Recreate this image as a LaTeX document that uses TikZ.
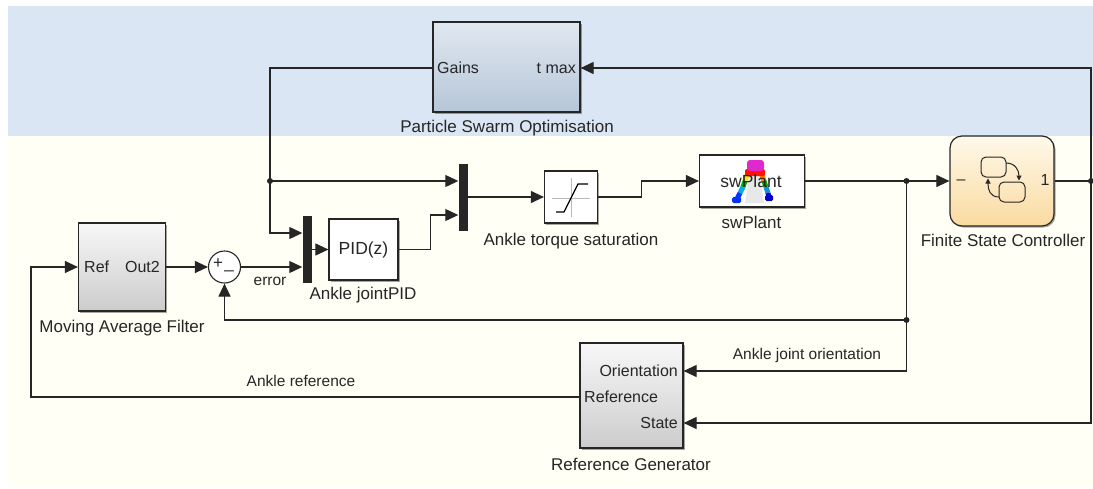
\documentclass[tikz,border=0pt]{standalone}
\usepackage{fontspec}
\setmainfont{Liberation Sans}
\usetikzlibrary{arrows.meta,shadows,calc}

\definecolor{bandblue}{RGB}{219,230,244}
\definecolor{canvas}{RGB}{255,255,245}
\definecolor{ink}{RGB}{38,38,38}
\definecolor{psotop}{RGB}{224,232,241}
\definecolor{psobot}{RGB}{182,198,215}
\definecolor{fsctop}{RGB}{255,249,234}
\definecolor{fscbot}{RGB}{250,218,160}
\definecolor{plantmag}{RGB}{225,40,205}

\tikzset{
  blk/.style={draw=ink, line width=1.2pt, inner sep=0pt,
    drop shadow={shadow xshift=1.5pt, shadow yshift=-1.5pt, opacity=0.35, fill=black}},
  greyblk/.style={blk, top color=white!97!black, bottom color=white!80!black},
  whiteblk/.style={blk, fill=white},
  muxbar/.style={fill=ink, inner sep=0pt, minimum width=9pt},
  wire/.style={draw=ink, line width=1.1pt},
  sig/.style={wire, -{Triangle[length=13pt,width=12pt]}},
  jdot/.style={circle, fill=ink, inner sep=0pt, minimum size=6pt},
  blkname/.style={text=ink, inner sep=0pt, font=\fontsize{17}{20}\selectfont},
  portlbl/.style={text=ink, inner sep=0pt, font=\fontsize{16}{19}\selectfont},
  siglbl/.style={text=ink, inner sep=0pt, font=\fontsize{15.5}{18}\selectfont}
}

\begin{document}
\begin{tikzpicture}[x=1pt, y=-1pt]
\useasboundingbox (0,0) rectangle (1093,488);

% canvas and the optimiser band
\fill[canvas] (8,136) rectangle (1093,487);
\fill[bandblue] (8,6) rectangle (1093,136);

% ---------- blocks ----------
\node[blk, top color=psotop, bottom color=psobot,
      minimum width=147pt, minimum height=90pt] (pso) at (506.5,67) {};
\node[portlbl, anchor=west] (psoGains) at (437,68) {Gains};
\node[portlbl, anchor=east] (psoTmax) at (576,68) {t max};
\node[blkname] (psoName) at (507,128) {Particle Swarm Optimisation};

\node[greyblk, minimum width=87pt, minimum height=88pt] (maf) at (122,267) {};
\node[portlbl, anchor=west] (mafRef) at (84,267) {Ref};
\node[portlbl, anchor=east] (mafOut) at (160,267) {Out2};
\node[blkname] (mafName) at (122,328) {Moving Average Filter};

\node[circle, draw=ink, line width=1.1pt, fill=white, minimum size=32pt, inner sep=0pt] (sum) at (224.5,267) {};
\node[inner sep=0pt, text=ink, font=\fontsize{17}{20}\selectfont] (sumPlus) at (218,264) {+};
\node[inner sep=0pt, text=ink, font=\fontsize{17}{20}\selectfont] (sumMinus) at (229,270) {\_};
\node[siglbl] (errLbl) at (270,281) {error};

\node[muxbar, minimum height=67pt] (mux1) at (307,249.5) {};
\node[whiteblk, minimum width=69pt, minimum height=61pt, font=\fontsize{17.5}{20}\selectfont, text=ink] (pid) at (363.5,249.5) {PID(z)};
\node[blkname] (pidName) at (363,295) {Ankle jointPID};

\node[muxbar, minimum height=67pt] (mux2) at (463,197) {};

\node[whiteblk, minimum width=53pt, minimum height=52pt] (sat) at (571,197) {};
\draw[gray!55, line width=0.8pt] (552,198) -- (590,198) (571,178) -- (571,217);
\draw[black, line width=1.3pt] (556,212) -- (564,212) -- (578,184) -- (588,184);
\node[blkname] (satName) at (571,241) {Ankle torque saturation};

\node[whiteblk, minimum width=105pt, minimum height=52pt] (plant) at (752,181) {};
% small robot icon of the plant
\fill[gray!18] (750,172) -- (759,172) -- (764,203) -- (745,203) -- cycle;
\foreach \c/\a/\b in {yellow!90!orange/{(747,175)}/{(745,181)}, green!70!black/{(745,181)}/{(743,187)},
                       cyan/{(743,187)}/{(740,193)}, blue!80!cyan/{(740,193)}/{(737,199)}}
  \draw[\c, line width=5pt] \a -- \b;
\fill[blue!80!cyan, rounded corners=1.5pt] (732,197) rectangle (741,203);
\foreach \c/\a/\b in {orange/{(762,175)}/{(764,181)}, green!70!black/{(764,181)}/{(766,187)},
                       cyan!80!blue/{(766,187)}/{(768,193)}, blue!80!black/{(768,193)}/{(769,198)}}
  \draw[\c, line width=5pt] \a -- \b;
\fill[blue!80!black, rounded corners=1.5pt] (765,195) rectangle (773,201);
\fill[red!85!orange, rounded corners=2pt] (745,169) rectangle (765,176);
\fill[plantmag, rounded corners=3pt] (747,160) rectangle (764,171);
\node[text=ink, inner sep=0pt, font=\fontsize{17.5}{20}\selectfont] (plantTxt) at (751,181) {swPlant};
\node[blkname] (plantName) at (751.5,222) {swPlant};

\node[blk, rounded corners=12pt, top color=fsctop, bottom color=fscbot,
      minimum width=104pt, minimum height=90pt] (fsc) at (1002,181) {};
\draw[ink, line width=1pt, rounded corners=5pt] (981,157) rectangle (1006,177);
\draw[ink, line width=1pt, rounded corners=5pt] (999,182) rectangle (1025,202);
\draw[ink, line width=1pt, -{Triangle[length=5pt,width=5pt]}]
  (1006,163) .. controls (1015,163) and (1019,170) .. (1019,180.5);
\draw[ink, line width=1pt, -{Triangle[length=5pt,width=5pt]}]
  (999,197) .. controls (990,197) and (988,190) .. (988,178.5);
\node[portlbl] (fscIn) at (961,182) {–};
\node[portlbl] (fscOut) at (1045,180) {1};
\node[blkname] (fscName) at (1003,240) {Finite State Controller};

\node[greyblk, minimum width=103pt, minimum height=105pt] (rg) at (631.5,395.5) {};
\node[portlbl, anchor=east] (rgO) at (678,371) {Orientation};
\node[portlbl, anchor=west] (rgR) at (584,397) {Reference};
\node[portlbl, anchor=east] (rgS) at (678,423) {State};
\node[blkname] (rgName) at (631,464) {Reference Generator};

% ---------- junctions ----------
\coordinate (jg) at (270,181);
\coordinate (jp) at (906.5,181);
\coordinate (jr) at (1091,181);
\coordinate (jf) at (906.5,320);
\coordinate (rt) at (1091,68);
\coordinate (rb) at (1091,423);
\coordinate (refCorner) at (31,397);

% ---------- signals ----------
\draw[sig] (maf.east) -- (sum.west);
\draw[sig] (sum.east) -- (mux1.west |- sum.east);
\draw[wire] (pso.west |- psoGains) -| (jg);
\draw[sig] (jg) |- (mux1.west |- 0,233);
\draw[sig] (jg) -- (mux2.west |- jg);
\draw[sig] (mux1.east |- pid.west) -- (pid.west);
\draw[sig] (pid.east) -- ++(32,0) |- (mux2.west |- 0,215);
\draw[sig] (mux2.east |- sat.west) -- (sat.west);
\draw[sig] (sat.east) -- ++(43,0) |- (plant.west);
\draw[wire] (plant.east) -- (jp);
\draw[sig] (jp) -- (fsc.west |- jp);
\draw[wire] (fsc.east |- jr) -- (jr);
\draw[sig] (jr) -- (rt) -- (pso.east |- rt);
\draw[sig] (jr) -- (rb) -- (rg.east |- rb);
\draw[wire] (jp) -- (jf);
\draw[sig] (jf) |- (rg.east |- rgO);
\draw[sig] (jf) -| (sum.south);
\draw[sig] (rg.west |- rgR) -- (refCorner) |- (maf.west);

\node[siglbl] (refLbl) at (301,381) {Ankle reference};
\node[siglbl] (oriLbl) at (807,355) {Ankle joint orientation};

\node[jdot] (dg) at (jg) {};
\node[jdot] (dp) at (jp) {};
\node[jdot] (dr) at (jr) {};
\node[jdot] (df) at (jf) {};
\end{tikzpicture}
\end{document}
